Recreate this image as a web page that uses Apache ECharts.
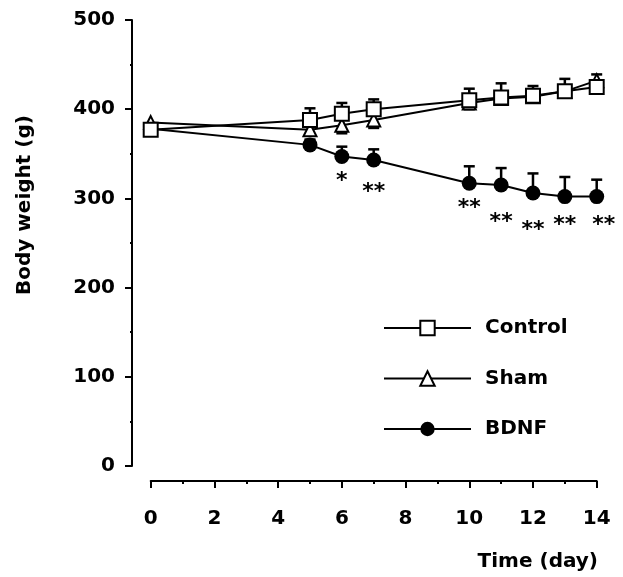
<!DOCTYPE html>
<html><head><meta charset="utf-8">
<script src="https://cdn.jsdelivr.net/npm/echarts@6/dist/echarts.min.js"></script>
<style>html,body{margin:0;padding:0;background:#fff}#c{width:623px;height:577px}</style>
</head><body><div id="c"></div>
<script>
const days = [0, 5, 6, 7, 10, 11, 12, 13, 14];
const control = [377, 388, 395, 400, 410, 413, 415, 420, 425];
const controlErr = [4, 13, 12, 11, 13, 16, 11, 14, 14];
const sham = [385, 377, 382, 388, 407, 412, 414, 420, 432];
const shamErr = [4, 6, 9, 9, 7, 4, 3, 3, 5];
const bdnf = [378, 360, 347, 343, 317, 315, 306, 302, 302];
const bdnfErr = [4, 6, 11, 12, 19, 19, 22, 22, 19];
const sigDays = [6, 7, 10, 11, 12, 13, 14];
const sigMarks = ['*', '**', '**', '**', '**', '**', '**'];
const sigY = [325, 313, 295, 279, 270, 276, 276];
const yTicks = [0, 100, 200, 300, 400, 500];
const xTicks = [0, 2, 4, 6, 8, 10, 12, 14];

const FONT = 'DejaVu Sans, sans-serif';
const FS = 20;
const chart = echarts.init(document.getElementById('c'), null, {renderer: 'canvas'});

function errData(vals, errs, dir) {
  return days.map((d, i) => [d, vals[i], vals[i] + dir * errs[i]]);
}
function errRender(params, api) {
  const x = api.value(0), m = api.value(1), e = api.value(2);
  const p0 = api.coord([x, m]), p1 = api.coord([x, e]);
  const w = 5.5;
  const st = {stroke: '#000', lineWidth: 2.5};
  return {type: 'group', children: [
    {type: 'line', shape: {x1: p0[0], y1: p0[1], x2: p1[0], y2: p1[1]}, style: st},
    {type: 'line', shape: {x1: p1[0] - w, y1: p1[1], x2: p1[0] + w, y2: p1[1]}, style: st}
  ]};
}
const lineStyle = {color: '#000', width: 2};

chart.setOption({
  animation: false,
  backgroundColor: '#fff',
  grid: [
    {left: 132, right: 26.3, top: 20, bottom: 111},   // y-axis holder
    {left: 150.7, right: 26.3, top: 20, bottom: 111}, // data
    {left: 150.7, right: 26.3, top: 20, bottom: 96}   // x-axis holder
  ],
  xAxis: [
    {gridIndex: 0, type: 'value', min: 0, max: 1, show: false},
    {gridIndex: 1, type: 'value', min: 0, max: 14, show: false},
    {gridIndex: 2, type: 'value', min: 0, max: 14, interval: 2,
      axisLine: {show: true, onZero: false, lineStyle: {color: '#000', width: 2}},
      axisTick: {show: true, length: 7, lineStyle: {color: '#000', width: 2}},
      minorTick: {show: true, splitNumber: 2, length: 3, lineStyle: {color: '#000', width: 2}},
      splitLine: {show: false},
      axisLabel: {margin: 28, color: '#000', fontFamily: FONT, fontWeight: 'bold', fontSize: FS,
        formatter: v => xTicks.indexOf(v) >= 0 ? String(v) : ''}}
  ],
  yAxis: [
    {gridIndex: 0, type: 'value', min: 0, max: 500, interval: 100,
      axisLine: {show: true, onZero: false, lineStyle: {color: '#000', width: 2}},
      axisTick: {show: true, length: 7, lineStyle: {color: '#000', width: 2}},
      minorTick: {show: true, splitNumber: 2, length: 2, lineStyle: {color: '#000', width: 2}},
      splitLine: {show: false},
      axisLabel: {margin: 17, color: '#000', fontFamily: FONT, fontWeight: 'bold', fontSize: FS,
        formatter: v => yTicks.indexOf(v) >= 0 ? String(v) : ''}},
    {gridIndex: 1, type: 'value', min: 0, max: 500, show: false},
    {gridIndex: 2, type: 'value', min: 0, max: 1, show: false}
  ],
  legend: {
    orient: 'vertical', left: 378, top: 313, itemWidth: 87, itemHeight: 18, itemGap: 30.5,
    textStyle: {color: '#000', fontFamily: FONT, fontWeight: 'bold', fontSize: FS, padding: [0, 0, 0, 9]},
    data: ['Control', 'Sham', 'BDNF']
  },
  graphic: [
    {type: 'text', x: 25, y: 205, rotation: Math.PI / 2,
      style: {text: 'Body weight (g)', font: 'bold ' + FS + 'px ' + FONT, fill: '#000', align: 'center', verticalAlign: 'middle'}},
    {type: 'text', x: 598, y: 562,
      style: {text: 'Time (day)', font: 'bold ' + FS + 'px ' + FONT, fill: '#000', align: 'right', verticalAlign: 'middle'}}
  ],
  series: [
    {type: 'custom', name: 'errC', xAxisIndex: 1, yAxisIndex: 1, renderItem: errRender, data: errData(control, controlErr, 1), z: 1, silent: true},
    {type: 'custom', name: 'errS', xAxisIndex: 1, yAxisIndex: 1, renderItem: errRender, data: errData(sham, shamErr, -1), z: 1, silent: true},
    {type: 'custom', name: 'errB', xAxisIndex: 1, yAxisIndex: 1, renderItem: errRender, data: errData(bdnf, bdnfErr, 1), z: 1, silent: true},
    {type: 'line', name: 'BDNF', xAxisIndex: 1, yAxisIndex: 1, data: days.map((d, i) => [d, bdnf[i]]), symbol: 'circle', symbolSize: 15,
      itemStyle: {color: '#000', borderColor: '#000', borderWidth: 0}, lineStyle: lineStyle, z: 3},
    {type: 'line', name: 'Sham', xAxisIndex: 1, yAxisIndex: 1, data: days.map((d, i) => [d, sham[i]]), symbol: 'triangle', symbolSize: 13,
      itemStyle: {color: '#fff', borderColor: '#000', borderWidth: 2}, lineStyle: lineStyle, z: 4},
    {type: 'line', name: 'Control', xAxisIndex: 1, yAxisIndex: 1, data: days.map((d, i) => [d, control[i]]), symbol: 'rect', symbolSize: 14,
      itemStyle: {color: '#fff', borderColor: '#000', borderWidth: 2}, lineStyle: lineStyle, z: 5},
    {type: 'scatter', name: 'sig', xAxisIndex: 1, yAxisIndex: 1,
      data: sigDays.map((d, i) => ({value: [d, sigY[i], sigMarks[i]],
        label: i === sigDays.length - 1 ? {offset: [7, 5]} : undefined})),
      symbolSize: 0, itemStyle: {color: '#000', opacity: 1},
      label: {show: true, position: 'inside', formatter: p => p.data.value[2], color: '#000',
        textBorderWidth: 0, textBorderColor: 'transparent', opacity: 1,
        fontFamily: FONT, fontWeight: 'bold', fontSize: 22, offset: [0, 5]}, z: 6, silent: true}
  ]
});
</script></body></html>
